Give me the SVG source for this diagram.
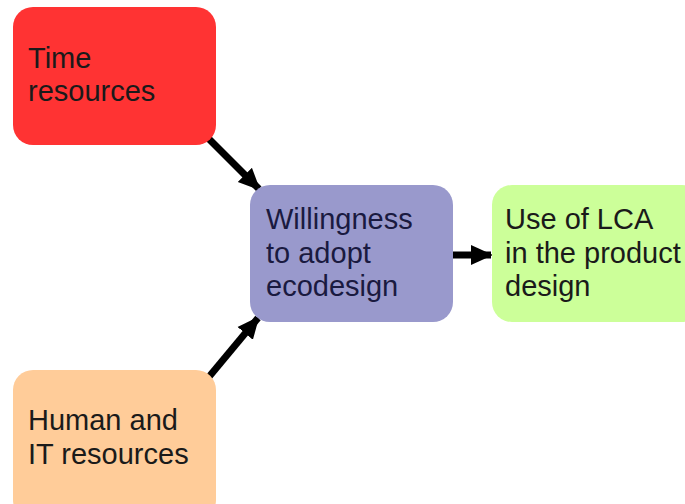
<svg xmlns="http://www.w3.org/2000/svg" width="685" height="504" viewBox="0 0 685 504">
<style>
.t{font-family:"Liberation Sans",Arial,sans-serif;font-size:29px;fill:#1a1a1a}
.d{fill:#1a1a40}
.c{stroke:#000;stroke-width:7;fill:none;marker-end:url(#ah)}
</style>
<defs>
<marker id="ah" markerUnits="userSpaceOnUse" markerWidth="24" markerHeight="24" refX="20" refY="12" orient="auto" viewBox="0 0 24 24">
<polygon points="0,2 22,12 0,22" fill="#000"/>
</marker>
</defs>
<rect width="685" height="504" fill="#fff"/>
<g id="connectors">
<line class="c" x1="208" y1="138" x2="259" y2="189"/>
<line class="c" x1="208" y1="378" x2="258" y2="318"/>
<line class="c" x1="453" y1="255" x2="491" y2="255"/>
</g>
<g id="time">
<rect x="13" y="7" width="203" height="138" rx="20" fill="#ff3333"/>
<text class="t" x="28" y="68">Time</text>
<text class="t" x="28" y="101">resources</text>
</g>
<g id="willingness">
<rect x="250" y="185" width="203" height="137" rx="20" fill="#9999cc"/>
<text class="t d" x="266" y="229">Willingness</text>
<text class="t d" x="266" y="263">to adopt</text>
<text class="t d" x="266" y="296">ecodesign</text>
</g>
<g id="lca">
<rect x="492" y="185" width="210" height="137" rx="20" fill="#ccff99"/>
<text class="t" x="505" y="229">Use of LCA</text>
<text class="t" x="505" y="263">in the product</text>
<text class="t" x="505" y="296">design</text>
</g>
<g id="human">
<rect x="13" y="370" width="203" height="150" rx="20" fill="#ffcc99"/>
<text class="t" x="28" y="430">Human and</text>
<text class="t" x="28" y="464">IT resources</text>
</g>
</svg>
